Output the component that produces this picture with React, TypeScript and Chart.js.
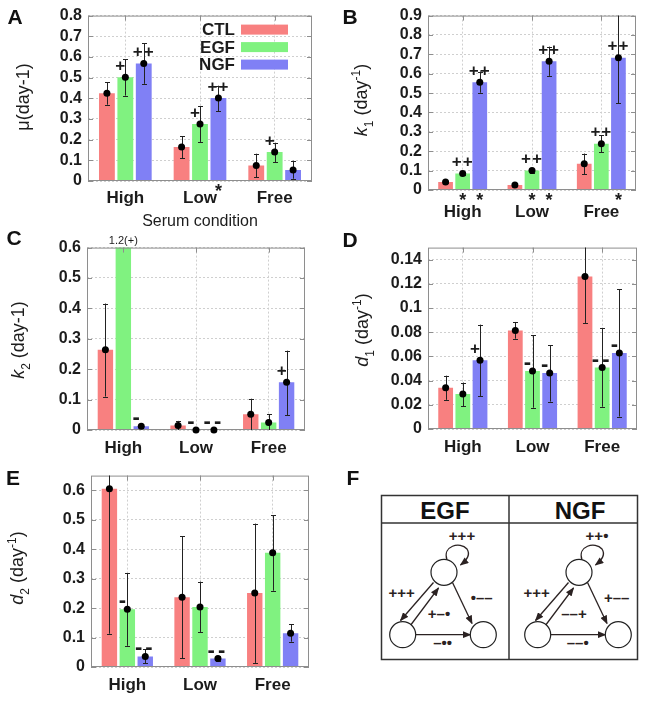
import React, { useEffect, useRef } from 'react';
import { Chart, registerables } from 'chart.js';

Chart.register(...registerables);

const FONT = '"Liberation Sans", Arial, Helvetica, sans-serif';
const TEXT = '#1c1c1c';

const categories = ['High', 'Low', 'Free'];
const seriesNames = ['CTL', 'EGF', 'NGF'];
const seriesColors = ['rgb(248,128,128)', 'rgb(128,242,128)', 'rgb(128,128,245)'];
const none = ['', '', ''];

// ---- Panel A: mu ----
const muCTL = [0.425, 0.164, 0.075];
const muCTLLow = [0.369, 0.109, 0.018];
const muCTLHigh = [0.477, 0.217, 0.132];
const muEGF = [0.502, 0.276, 0.14];
const muEGFLow = [0.413, 0.189, 0.092];
const muEGFHigh = [0.589, 0.363, 0.185];
const muNGF = [0.568, 0.401, 0.053];
const muNGFLow = [0.47, 0.337, 0.011];
const muNGFHigh = [0.666, 0.461, 0.098];
const muMarksEGF = ['+', '+', '+'];
const muMarksNGF = ['++', '++', ''];
const muStarsNGF = ['', '*', ''];

// ---- Panel B: k1 ----
const k1CTL = [0.041, 0.026, 0.135];
const k1CTLLow = [0.036, 0.022, 0.08];
const k1CTLHigh = [0.046, 0.03, 0.188];
const k1EGF = [0.085, 0.1, 0.239];
const k1EGFLow = [0.077, 0.09, 0.195];
const k1EGFHigh = [0.093, 0.11, 0.282];
const k1NGF = [0.556, 0.664, 0.683];
const k1NGFLow = [0.502, 0.589, 0.447];
const k1NGFHigh = [0.611, 0.74, 1.0];
const k1MarksEGF = ['++', '++', '++'];
const k1MarksNGF = ['++', '++', '++'];
const k1StarsEGF = ['*', '*', ''];
const k1StarsNGF = ['*', '*', '*'];

// ---- Panel C: k2 ----
const k2CTL = [0.264, 0.015, 0.052];
const k2CTLLow = [0.11, 0.0, 0.0];
const k2CTLHigh = [0.416, 0.03, 0.103];
const k2EGF = [1.2, 0.0, 0.025];
const k2EGFLow = [1.2, 0.0, 0.0];
const k2EGFHigh = [1.2, 0.0, 0.052];
const k2NGF = [0.012, 0.0, 0.157];
const k2NGFLow = [0.008, 0.0, 0.049];
const k2NGFHigh = [0.016, 0.0, 0.261];
const k2MarksEGF = ['+', '-', ''];
const k2MarksNGF = ['-', '--', '+'];

// ---- Panel D: d1 ----
const d1CTL = [0.0341, 0.0815, 0.1261];
const d1CTLLow = [0.0241, 0.0747, 0.0877];
const d1CTLHigh = [0.0441, 0.0885, 0.17];
const d1EGF = [0.029, 0.0479, 0.0509];
const d1EGFLow = [0.019, 0.0176, 0.0184];
const d1EGFHigh = [0.0384, 0.0774, 0.0836];
const d1NGF = [0.0568, 0.0463, 0.0628];
const d1NGFLow = [0.0273, 0.0227, 0.0103];
const d1NGFHigh = [0.0863, 0.0693, 0.1156];
const d1MarksEGF = ['', '-', '--'];
const d1MarksNGF = ['+', '-', '-'];

// ---- Panel E: d2 ----
const d2CTL = [0.605, 0.237, 0.251];
const d2CTLLow = [0.113, 0.029, 0.014];
const d2CTLHigh = [0.75, 0.444, 0.487];
const d2EGF = [0.196, 0.204, 0.388];
const d2EGFLow = [0.072, 0.119, 0.259];
const d2EGFHigh = [0.318, 0.29, 0.516];
const d2NGF = [0.036, 0.029, 0.115];
const d2NGFLow = [0.013, 0.022, 0.086];
const d2NGFHigh = [0.061, 0.036, 0.145];
const d2MarksEGF = ['-', '', ''];
const d2MarksNGF = ['--', '--', ''];

// ---- y tick values per panel ----
const ticksA = [0, 0.1, 0.2, 0.3, 0.4, 0.5, 0.6, 0.7, 0.8];
const ticksB = [0, 0.1, 0.2, 0.3, 0.4, 0.5, 0.6, 0.7, 0.8, 0.9];
const ticksC = [0, 0.1, 0.2, 0.3, 0.4, 0.5, 0.6];
const ticksD = [0, 0.02, 0.04, 0.06, 0.08, 0.1, 0.12, 0.14];
const ticksE = [0, 0.1, 0.2, 0.3, 0.4, 0.5, 0.6];

type Seg = { t: string; italic?: boolean; sub?: boolean; sup?: boolean };
type Series = { v: number[]; lo: number[]; hi: number[]; marks: string[]; stars: string[] };
type Panel = {
  id: string;
  box: { x: number; y: number; w: number; h: number };
  plot: { l: number; t: number; r: number; b: number };
  max: number;
  ticks: number[];
  xPad: number;
  title: Seg[];
  titlePos: [number, number];
  legend?: boolean;
  series: Series[];
};

const panels: Panel[] = [
  {
    id: 'A', box: { x: 0, y: 0, w: 320, h: 232 }, plot: { l: 88, t: 15, r: 312, b: 181 },
    max: 0.8, ticks: ticksA, xPad: 7, title: [{ t: 'μ(day-1)' }], titlePos: [23, 97], legend: true,
    series: [
      { v: muCTL, lo: muCTLLow, hi: muCTLHigh, marks: none, stars: none },
      { v: muEGF, lo: muEGFLow, hi: muEGFHigh, marks: muMarksEGF, stars: none },
      { v: muNGF, lo: muNGFLow, hi: muNGFHigh, marks: muMarksNGF, stars: muStarsNGF },
    ],
  },
  {
    id: 'B', box: { x: 320, y: 0, w: 326, h: 232 }, plot: { l: 428, t: 14, r: 636, b: 190 },
    max: 0.9, ticks: ticksB, xPad: 12,
    title: [{ t: 'k', italic: true }, { t: '1', sub: true }, { t: ' (day' }, { t: '-1', sup: true }, { t: ')' }],
    titlePos: [41, 100],
    series: [
      { v: k1CTL, lo: k1CTLLow, hi: k1CTLHigh, marks: none, stars: none },
      { v: k1EGF, lo: k1EGFLow, hi: k1EGFHigh, marks: k1MarksEGF, stars: k1StarsEGF },
      { v: k1NGF, lo: k1NGFLow, hi: k1NGFHigh, marks: k1MarksNGF, stars: k1StarsNGF },
    ],
  },
  {
    id: 'C', box: { x: 0, y: 232, w: 320, h: 228 }, plot: { l: 87, t: 245, r: 305, b: 430 },
    max: 0.6, ticks: ticksC, xPad: 8,
    title: [{ t: 'k', italic: true }, { t: '2', sub: true }, { t: ' (day-1)' }],
    titlePos: [18, 108],
    series: [
      { v: k2CTL, lo: k2CTLLow, hi: k2CTLHigh, marks: none, stars: none },
      { v: k2EGF, lo: k2EGFLow, hi: k2EGFHigh, marks: k2MarksEGF, stars: none },
      { v: k2NGF, lo: k2NGFLow, hi: k2NGFHigh, marks: k2MarksNGF, stars: none },
    ],
  },
  {
    id: 'D', box: { x: 320, y: 232, w: 326, h: 228 }, plot: { l: 428, t: 244, r: 637, b: 429 },
    max: 0.15, ticks: ticksD, xPad: 8,
    title: [{ t: 'd', italic: true }, { t: '1', sub: true }, { t: ' (day' }, { t: '-1', sup: true }, { t: ')' }],
    titlePos: [42, 98],
    series: [
      { v: d1CTL, lo: d1CTLLow, hi: d1CTLHigh, marks: none, stars: none },
      { v: d1EGF, lo: d1EGFLow, hi: d1EGFHigh, marks: d1MarksEGF, stars: none },
      { v: d1NGF, lo: d1NGFLow, hi: d1NGFHigh, marks: d1MarksNGF, stars: none },
    ],
  },
  {
    id: 'E', box: { x: 0, y: 460, w: 320, h: 241 }, plot: { l: 91, t: 473, r: 309, b: 667 },
    max: 0.65, ticks: ticksE, xPad: 8,
    title: [{ t: 'd', italic: true }, { t: '2', sub: true }, { t: ' (day' }, { t: '-1', sup: true }, { t: ')' }],
    titlePos: [17, 108],
    series: [
      { v: d2CTL, lo: d2CTLLow, hi: d2CTLHigh, marks: none, stars: none },
      { v: d2EGF, lo: d2EGFLow, hi: d2EGFHigh, marks: d2MarksEGF, stars: none },
      { v: d2NGF, lo: d2NGFLow, hi: d2NGFHigh, marks: d2MarksNGF, stars: none },
    ],
  },
];

function fmtTick(v: number) {
  return String(parseFloat(Number(v).toFixed(4)));
}

function drawTitle(ctx: CanvasRenderingContext2D, segs: Seg[], cx: number, cy: number, size: number) {
  const fontFor = (s: Seg) =>
    `${s.italic ? 'italic ' : ''}${s.sub || s.sup ? Math.round(size * 0.68) : size}px ${FONT}`;
  const widths = segs.map((s) => {
    ctx.font = fontFor(s);
    return ctx.measureText(s.t).width;
  });
  const total = widths.reduce((a, b) => a + b, 0);
  ctx.save();
  ctx.translate(cx, cy);
  ctx.rotate(-Math.PI / 2);
  ctx.fillStyle = TEXT;
  ctx.textBaseline = 'alphabetic';
  ctx.textAlign = 'left';
  let x = -total / 2;
  const base = size * 0.36;
  segs.forEach((s, i) => {
    ctx.font = fontFor(s);
    const dy = s.sub ? size * 0.28 : s.sup ? -size * 0.4 : 0;
    ctx.fillText(s.t, x, base + dy);
    x += widths[i];
  });
  ctx.restore();
}

function makeDecor(p: Panel) {
  return {
    id: 'decor' + p.id,
    afterDatasetsDraw(chart: any) {
      const ctx: CanvasRenderingContext2D = chart.ctx;
      const area = chart.chartArea;
      const ys = chart.scales.y;
      const xs = chart.scales.x;
      ctx.save();
      // frame
      ctx.strokeStyle = '#8e8e8e';
      ctx.lineWidth = 1;
      ctx.strokeRect(area.left + 0.5, area.top + 0.5, area.right - area.left - 1, area.bottom - area.top - 1);
      ctx.beginPath();
      ys.ticks.forEach((t: any) => {
        const y = Math.round(ys.getPixelForValue(t.value)) + 0.5;
        ctx.moveTo(area.left, y);
        ctx.lineTo(area.left + 5, y);
        ctx.moveTo(area.right - 5, y);
        ctx.lineTo(area.right, y);
      });
      categories.forEach((_, j) => {
        const x = Math.round(xs.getPixelForValue(j)) + 0.5;
        ctx.moveTo(x, area.top);
        ctx.lineTo(x, area.top + 5);
      });
      ctx.stroke();

      // error bars (clipped)
      ctx.save();
      ctx.beginPath();
      ctx.rect(area.left, area.top, area.right - area.left, area.bottom - area.top);
      ctx.clip();
      ctx.strokeStyle = '#222';
      ctx.lineWidth = 1;
      p.series.forEach((s, i) => {
        const meta = chart.getDatasetMeta(i);
        meta.data.forEach((bar: any, j: number) => {
          const yHi = ys.getPixelForValue(s.hi[j]);
          const yLo = ys.getPixelForValue(s.lo[j]);
          if (Math.abs(yLo - yHi) < 1.5) return;
          const x = Math.round(bar.x) + 0.5;
          ctx.beginPath();
          ctx.moveTo(x, yHi);
          ctx.lineTo(x, yLo);
          ctx.moveTo(x - 2.5, Math.round(yHi) + 0.5);
          ctx.lineTo(x + 2.5, Math.round(yHi) + 0.5);
          ctx.moveTo(x - 2.5, Math.round(yLo) + 0.5);
          ctx.lineTo(x + 2.5, Math.round(yLo) + 0.5);
          ctx.stroke();
        });
      });
      ctx.restore();

      // dots, marks, stars
      p.series.forEach((s, i) => {
        const meta = chart.getDatasetMeta(i);
        meta.data.forEach((bar: any, j: number) => {
          const x = bar.x;
          const val = s.v[j];
          const mark = s.marks[j];
          if (val > p.max) {
            ctx.fillStyle = TEXT;
            ctx.font = `11px ${FONT}`;
            ctx.textAlign = 'center';
            ctx.textBaseline = 'middle';
            ctx.fillText(`${val}${mark ? '(' + mark + ')' : ''}`, x, area.top - 7);
          } else {
            const y = ys.getPixelForValue(val);
            ctx.fillStyle = '#000';
            ctx.beginPath();
            ctx.arc(x, y, 3.5, 0, Math.PI * 2);
            ctx.fill();
            if (mark) {
              const isMinus = mark[0] === '-';
              ctx.fillStyle = TEXT;
              ctx.font = `bold ${isMinus ? 22 : 17}px ${FONT}`;
              ctx.textAlign = 'center';
              ctx.textBaseline = 'middle';
              (ctx as any).letterSpacing = mark.length > 1 ? (isMinus ? '3px' : '1px') : '0px';
              const dx = mark.length === 1 ? -5 : 0;
              ctx.fillText(mark, x + dx, y - (isMinus ? 8 : 11));
              (ctx as any).letterSpacing = '0px';
            }
          }
          if (s.stars[j]) {
            ctx.fillStyle = TEXT;
            ctx.font = `bold 18px ${FONT}`;
            ctx.textAlign = 'center';
            ctx.textBaseline = 'middle';
            ctx.fillText(s.stars[j], x, area.bottom + 11);
          }
        });
      });

      // legend
      if (p.legend) {
        chart.data.datasets.forEach((ds: any, i: number) => {
          const cy = area.top + 14 + i * 17.5;
          const sr = area.right - 24;
          const sw = 47;
          ctx.fillStyle = ds.backgroundColor;
          ctx.fillRect(sr - sw, cy - 5, sw, 10);
          ctx.fillStyle = TEXT;
          ctx.font = `bold 17px ${FONT}`;
          ctx.textAlign = 'right';
          ctx.textBaseline = 'middle';
          ctx.fillText(ds.label, sr - sw - 6, cy + 1);
        });
      }

      drawTitle(ctx, p.title, p.titlePos[0], p.titlePos[1], 18);
      ctx.restore();
    },
  };
}

function PanelChart({ p }: { p: Panel }) {
  const ref = useRef<HTMLCanvasElement>(null);
  useEffect(() => {
    const canvas = ref.current;
    if (!canvas) return;
    const yW = p.plot.l - p.box.x;
    const xH = p.box.y + p.box.h - p.plot.b;
    const padTop = p.plot.t - p.box.y;
    const padRight = p.box.x + p.box.w - p.plot.r;
    const chart = new Chart(canvas, {
      type: 'bar',
      data: {
        labels: categories,
        datasets: p.series.map((s, i) => ({
          label: seriesNames[i],
          data: s.v,
          backgroundColor: seriesColors[i],
          borderWidth: 0,
          categoryPercentage: 0.74,
          barPercentage: 0.86,
        })),
      },
      options: {
        animation: false,
        responsive: false,
        devicePixelRatio: 1,
        layout: { padding: { top: padTop, right: padRight, left: 0, bottom: 0 } },
        plugins: { legend: { display: false }, tooltip: { enabled: false } },
        scales: {
          x: {
            offset: true,
            grid: { offset: false, color: '#cfcfcf', drawTicks: false, lineWidth: 1 },
            border: { display: false, dash: [2, 2] },
            ticks: {
              font: { family: FONT, size: 17, weight: 'bold' },
              color: TEXT,
              padding: p.xPad,
              maxRotation: 0,
              autoSkip: false,
            },
            afterFit: (scale: any) => {
              scale.height = xH;
            },
          },
          y: {
            min: 0,
            max: p.max,
            grid: { color: '#cfcfcf', drawTicks: false, lineWidth: 1 },
            border: { display: false, dash: [2, 2] },
            ticks: {
              autoSkip: false,
              font: { family: FONT, size: 16, weight: 'bold' },
              color: TEXT,
              padding: 6,
              callback: (v: any) => fmtTick(v),
            },
            afterBuildTicks: (scale: any) => {
              scale.ticks = p.ticks.map((value) => ({ value }));
            },
            afterFit: (scale: any) => {
              scale.width = yW;
            },
          },
        },
      },
      plugins: [makeDecor(p)],
    } as any);
    return () => chart.destroy();
  }, [p]);
  return (
    <canvas
      ref={ref}
      width={p.box.w}
      height={p.box.h}
      style={{ position: 'absolute', left: p.box.x, top: p.box.y, width: p.box.w, height: p.box.h }}
    />
  );
}

const panelLetters: { t: string; x: number; y: number }[] = [
  { t: 'A', x: 15, y: 17 },
  { t: 'B', x: 350, y: 17 },
  { t: 'C', x: 14, y: 238 },
  { t: 'D', x: 350, y: 240 },
  { t: 'E', x: 13, y: 478 },
  { t: 'F', x: 353, y: 478 },
];

type Net = { name: string; dx: number; loop: string; diagA: string; diagB: string; right: string; bottom: string };
const networks: Net[] = [
  { name: 'EGF', dx: 0, loop: '+++', diagA: '+++', diagB: '+–•', right: '•––', bottom: '–••' },
  { name: 'NGF', dx: 135, loop: '++•', diagA: '+++', diagB: '––+', right: '+––', bottom: '––•' },
];

function PanelF() {
  const stroke = '#2b2222';
  const lab = { fontFamily: FONT, fontWeight: 700, fontSize: 15, fill: '#2b2222' } as any;
  return (
    <svg width={260} height={170} style={{ position: 'absolute', left: 380, top: 493 }}>
      <defs>
        <marker id="ah" viewBox="0 0 10 8" refX="9" refY="4" markerWidth="9" markerHeight="7" markerUnits="userSpaceOnUse" orient="auto">
          <path d="M0,0 L10,4 L0,8 z" fill={stroke} />
        </marker>
      </defs>
      <rect x={1.5} y={2.5} width={256} height={164} fill="#fff" stroke="#333" strokeWidth={1.5} />
      <line x1={1.5} y1={30} x2={257.5} y2={30} stroke="#333" strokeWidth={1.5} />
      <line x1={129} y1={2.5} x2={129} y2={166.5} stroke="#333" strokeWidth={1.5} />
      {networks.map((n) => (
        <g key={n.name}>
          <text x={65 + n.dx} y={17} textAnchor="middle" dominantBaseline="central" style={{ fontFamily: FONT, fontWeight: 700, fontSize: 24, fill: '#111' }}>
            {n.name}
          </text>
          <g transform={`translate(${n.dx},0)`}>
            <path d="M67,67 C62,53 80,48 87,56 C91,62 87,67 80.5,72" fill="none" stroke={stroke} strokeWidth={1.3} markerEnd="url(#ah)" />
            <line x1={53.5} y1={89.5} x2={20.5} y2={127.5} stroke={stroke} strokeWidth={1.3} markerEnd="url(#ah)" />
            <line x1={30} y1={133} x2={58.5} y2={95} stroke={stroke} strokeWidth={1.3} markerEnd="url(#ah)" />
            <line x1={72.5} y1={89.5} x2={92} y2={130.5} stroke={stroke} strokeWidth={1.3} markerEnd="url(#ah)" />
            <line x1={36} y1={141.7} x2={90.5} y2={141.7} stroke={stroke} strokeWidth={1.3} markerEnd="url(#ah)" />
            <circle cx={64} cy={79.3} r={13} fill="#fff" stroke="#222" strokeWidth={1.2} />
            <circle cx={22.7} cy={141.7} r={13} fill="#fff" stroke="#222" strokeWidth={1.2} />
            <circle cx={103.3} cy={141.7} r={13} fill="#fff" stroke="#222" strokeWidth={1.2} />
            <text x={82} y={42} textAnchor="middle" dominantBaseline="central" style={lab}>{n.loop}</text>
            <text x={21.7} y={99.5} textAnchor="middle" dominantBaseline="central" style={lab}>{n.diagA}</text>
            <text x={59} y={120} textAnchor="middle" dominantBaseline="central" style={lab}>{n.diagB}</text>
            <text x={101.7} y={104} textAnchor="middle" dominantBaseline="central" style={lab}>{n.right}</text>
            <text x={62.7} y={149.5} textAnchor="middle" dominantBaseline="central" style={lab}>{n.bottom}</text>
          </g>
        </g>
      ))}
    </svg>
  );
}

export default function App() {
  return (
    <div style={{ position: 'absolute', left: 0, top: 0, width: 646, height: 701, background: '#fff', fontFamily: FONT, overflow: 'hidden' }}>
      {panels.map((p) => (
        <PanelChart key={p.id} p={p} />
      ))}
      <div style={{ position: 'absolute', left: 100, top: 211, width: 200, textAlign: 'center', fontSize: 16, lineHeight: '20px', color: TEXT }}>
        Serum condition
      </div>
      <PanelF />
      {panelLetters.map((l) => (
        <div
          key={l.t}
          style={{ position: 'absolute', left: l.x - 10, top: l.y - 11, width: 20, height: 22, lineHeight: '22px', textAlign: 'center', fontWeight: 700, fontSize: 21, color: '#111' }}
        >
          {l.t}
        </div>
      ))}
    </div>
  );
}
